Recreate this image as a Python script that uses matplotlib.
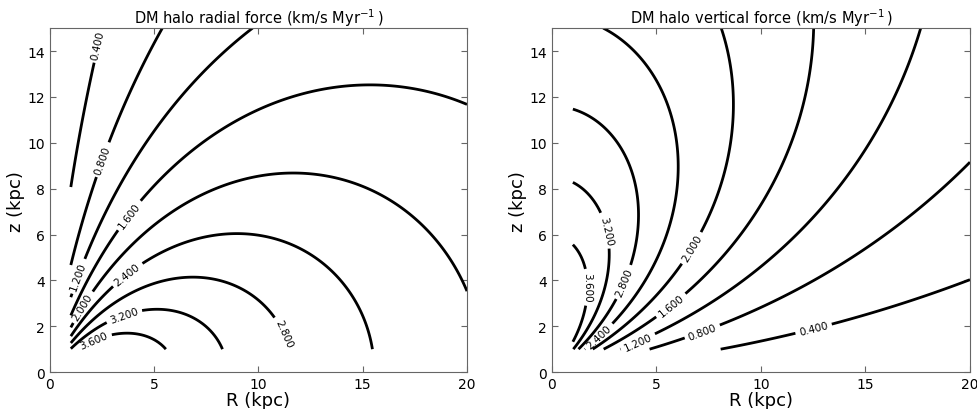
import numpy as np
import matplotlib
matplotlib.use('Agg')
import matplotlib.pyplot as plt

# contour levels (km/s/Myr) and plot ranges
levels = [0.4, 0.8, 1.2, 1.6, 2.0, 2.4, 2.8, 3.2, 3.6]
R_range = [1.0, 20.0]
z_range = [1.0, 15.0]
x_ticks = [0, 5, 10, 15, 20]
y_ticks = [0, 2, 4, 6, 8, 10, 12, 14]

# NFW halo parameters
r_s = 22.0      # scale radius (kpc)
amp = 9.95      # 4 pi G rho0 r_s in km/s/Myr

titles = ['DM halo radial force (km/s Myr$^{-1}\\,$)',
          'DM halo vertical force (km/s Myr$^{-1}\\,$)']

# where the contour labels sit (R, z)
label_pos_radial = [(2.2, 14.3), (2.1, 9.4), (1.3, 4.2), (3.7, 6.9), (1.45, 2.9),
                    (3.5, 4.5), (11.4, 1.75), (3.5, 2.6), (2.1, 1.4)]
label_pos_vertical = [(12.5, 1.95), (7.2, 1.75), (4.1, 1.35), (5.7, 2.9), (6.7, 5.4),
                      (2.2, 1.6), (3.5, 3.9), (2.7, 6.2), (1.7, 3.7)]


def nfw_accel(r):
    x = r / r_s
    return amp * (np.log(1 + x) - x / (1 + x)) / x**2


R = np.linspace(R_range[0], R_range[1], 191)
z = np.linspace(z_range[0], z_range[1], 141)
RR, ZZ = np.meshgrid(R, z)
rr = np.sqrt(RR**2 + ZZ**2)
g = nfw_accel(rr)
F_R = g * RR / rr
F_z = g * ZZ / rr

fig = plt.figure(figsize=(9.78, 4.10), dpi=100)
ax1 = fig.add_axes([0.0511, 0.090, 0.4264, 0.839])
ax2 = fig.add_axes([0.5644, 0.090, 0.4274, 0.839])

for ax, F, title, lpos in zip([ax1, ax2], [F_R, F_z], titles,
                              [label_pos_radial, label_pos_vertical]):
    cs = ax.contour(RR, ZZ, F, levels=levels, colors='k', linewidths=2)
    ax.clabel(cs, fmt='%.3f', fontsize=7.5, inline=True, manual=lpos)
    ax.set_xlim(0, 20)
    ax.set_ylim(0, 15)
    ax.set_xticks(x_ticks)
    ax.set_yticks(y_ticks)
    ax.tick_params(direction='in', top=True, right=True, length=4,
                   labelsize=10, color='0.4')
    for sp in ax.spines.values():
        sp.set_color('0.4')
    ax.set_xlabel('R (kpc)', fontsize=13, labelpad=0)
    ax.set_ylabel('z (kpc)', fontsize=13, labelpad=2)
    ax.set_title(title, fontsize=10.5, pad=4)

fig.savefig('out.png', dpi=100)
